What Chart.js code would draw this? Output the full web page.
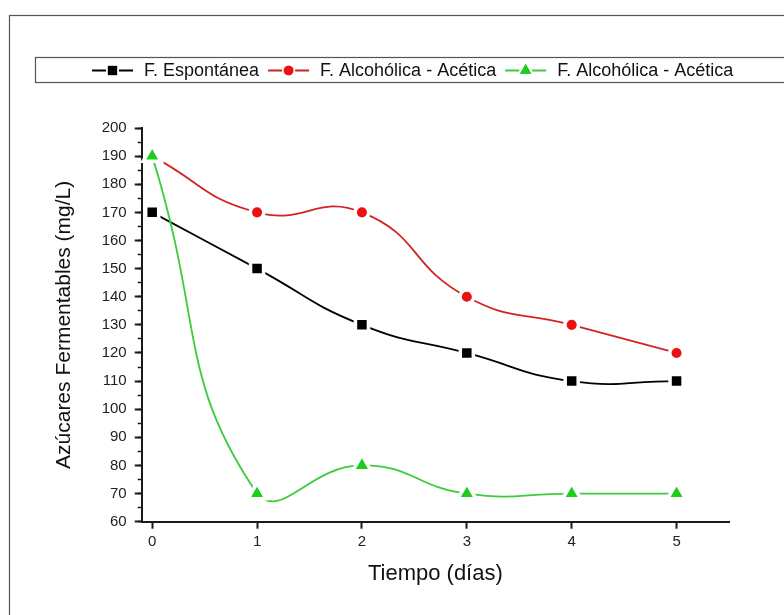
<!DOCTYPE html>
<html>
<head>
<meta charset="utf-8">
<script src="https://cdn.jsdelivr.net/npm/chart.js@4/dist/chart.umd.min.js"></script>
<style>
  html, body { margin: 0; padding: 0; background: #fff; }
  #wrap { width: 784px; height: 615px; position: relative; }
</style>
</head>
<body>
<div id="wrap"><canvas id="c" width="784" height="615"></canvas></div>
<script>
// ---- data ----
const dias = [0, 1, 2, 3, 4, 5];
const espontanea = [170, 150, 130, 120, 110, 110];
const alcoholicaRoja = [190, 170, 170, 140, 130, 120];
const alcoholicaVerde = [190, 70, 80, 70, 70, 70];
const seriesLabels = ['F. Espontánea', 'F. Alcohólica - Acética', 'F. Alcohólica - Acética'];
const xTicks = [0, 1, 2, 3, 4, 5];
const yTicks = [60, 70, 80, 90, 100, 110, 120, 130, 140, 150, 160, 170, 180, 190, 200];
const yMinorTicks = [60, 65, 70, 75, 80, 85, 90, 95, 100, 105, 110, 115, 120, 125, 130, 135, 140, 145, 150, 155, 160, 165, 170, 175, 180, 185, 190, 195, 200];
const xTitle = 'Tiempo (días)';
const yTitle = 'Azúcares Fermentables (mg/L)';

const FONT = "'Liberation Sans', Arial, sans-serif";
const pts = (ys) => dias.map((d, i) => ({x: d, y: ys[i]}));

const styles = [
  {line: '#000000', fill: '#000000', shape: 'rect', r: 9.2},
  {line: '#d02424', fill: '#ee1010', shape: 'circle', r: 6.8},
  {line: '#3ccc3c', fill: '#1ecc1e', shape: 'triangle', r: 10.5}
];

const frameAndLegend = {
  id: 'frameAndLegend',
  beforeDraw(chart) {
    const ctx = chart.ctx;
    ctx.save();
    ctx.fillStyle = '#fff';
    ctx.fillRect(0, 0, chart.width, chart.height);
    ctx.strokeStyle = '#555';
    ctx.lineWidth = 1.2;
    ctx.strokeRect(9.5, 15.5, 800, 700);
    ctx.strokeRect(35.5, 57.5, 780, 25);
    ctx.restore();
  },
  afterDraw(chart) {
    const ctx = chart.ctx;
    ctx.save();
    ctx.font = '18px ' + FONT;
    ctx.textBaseline = 'middle';
    const yMid = 70.5;
    let x = 92;
    chart.data.datasets.forEach((ds, i) => {
      const st = styles[i];
      ctx.strokeStyle = st.line;
      ctx.lineWidth = 2;
      ctx.beginPath();
      ctx.moveTo(x, yMid); ctx.lineTo(x + 14, yMid);
      ctx.moveTo(x + 27, yMid); ctx.lineTo(x + 41, yMid);
      ctx.stroke();
      ctx.fillStyle = st.fill;
      Chart.helpers.drawPoint(ctx, {pointStyle: st.shape, radius: st.shape === 'triangle' ? 6.5 : (st.shape === 'rect' ? 6.5 : 4.8), borderWidth: 0, rotation: 0}, x + 20.5, yMid);
      ctx.fill();
      ctx.fillStyle = '#111';
      ctx.fillText(ds.label, x + 52, yMid + 1);
      x += 52 + ctx.measureText(ds.label).width + 9;
    });
    ctx.restore();
  }
};

const axisColor = '#1a1a1a';

new Chart(document.getElementById('c'), {
  type: 'line',
  data: {
    datasets: [
      {label: seriesLabels[0], data: pts(espontanea), order: 3},
      {label: seriesLabels[1], data: pts(alcoholicaRoja), order: 2},
      {label: seriesLabels[2], data: pts(alcoholicaVerde), order: 1}
    ].map((d, i) => Object.assign(d, {
      borderColor: styles[i].line,
      backgroundColor: styles[i].fill,
      borderWidth: 1.8,
      tension: 0.5,
      pointStyle: styles[i].shape,
      pointRadius: styles[i].r,
      pointHoverRadius: styles[i].r,
      pointBackgroundColor: styles[i].fill,
      pointBorderColor: '#ffffff',
      pointBorderWidth: 3.5,
      fill: false,
      clip: false,
      xAxisID: 'x',
      yAxisID: 'y'
    }))
  },
  options: {
    responsive: false,
    animation: false,
    events: [],
    layout: {padding: {top: 128, right: 55, left: 0, bottom: 0}},
    plugins: {legend: {display: false}, tooltip: {enabled: false}},
    scales: {
      x: {
        type: 'linear',
        position: 'bottom',
        min: -0.1,
        max: 5.5,
        afterBuildTicks: (s) => { s.ticks = xTicks.map(v => ({value: v})); },
        afterFit: (s) => { s.height = 93.3; },
        grid: {drawOnChartArea: false, drawTicks: true, tickLength: 7, tickWidth: 2, tickColor: axisColor},
        border: {display: true, color: axisColor, width: 2},
        ticks: {font: {family: FONT, size: 15}, color: '#222', padding: 4, maxRotation: 0},
        title: {display: true, text: xTitle, font: {family: FONT, size: 22}, color: '#111', padding: {top: 0, bottom: 28}}
      },
      y: {
        type: 'linear',
        position: 'left',
        weight: 1,
        min: 60,
        max: 200,
        afterBuildTicks: (s) => { s.ticks = yTicks.map(v => ({value: v})); },
        afterFit: (s) => { s.width = 141.7; },
        grid: {drawOnChartArea: false, drawTicks: true, tickLength: 7, tickWidth: 2, tickColor: axisColor},
        border: {display: true, color: axisColor, width: 2},
        ticks: {font: {family: FONT, size: 15}, color: '#222', padding: 8},
        title: {display: true, text: yTitle, font: {family: FONT, size: 21}, color: '#111', padding: {top: 52, bottom: 0}}
      },
      yMinor: {
        type: 'linear',
        position: 'left',
        weight: 0,
        min: 60,
        max: 200,
        afterBuildTicks: (s) => { s.ticks = yMinorTicks.map(v => ({value: v})); },
        afterFit: (s) => { s.width = 0; },
        grid: {drawOnChartArea: false, drawTicks: true, tickLength: 4, tickWidth: 1.5, tickColor: axisColor},
        border: {display: false},
        ticks: {display: false}
      }
    }
  },
  plugins: [frameAndLegend]
});
</script>
</body>
</html>
